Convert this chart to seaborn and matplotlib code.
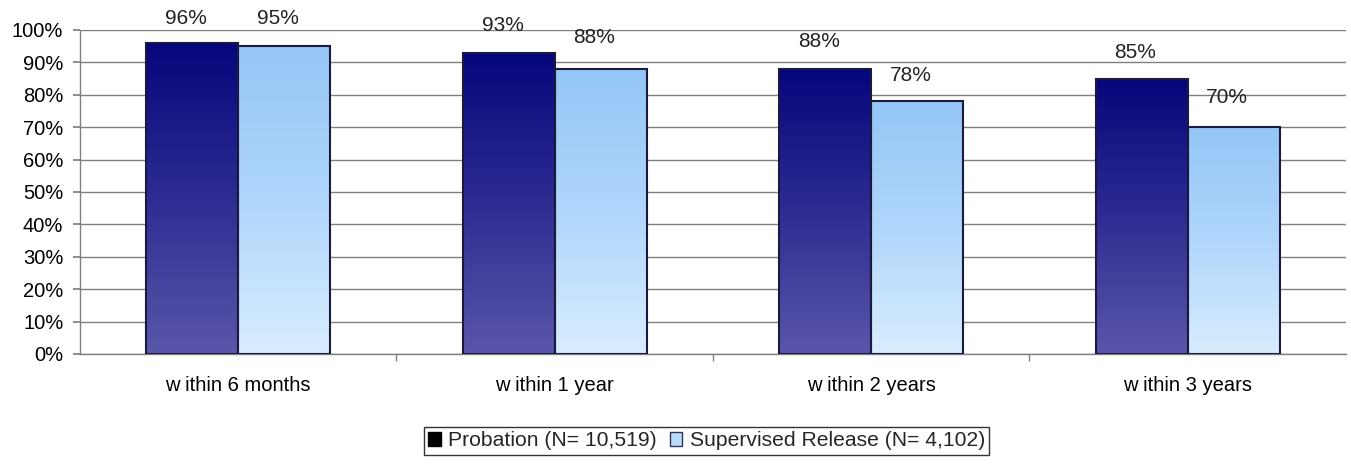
import numpy as np
import pandas as pd
import seaborn as sns
import matplotlib.pyplot as plt
from matplotlib.patches import Patch
from matplotlib.colors import LinearSegmentedColormap

# Data
periods = ["w ithin 6 months", "w ithin 1 year", "w ithin 2 years", "w ithin 3 years"]
groups = ["Probation (N= 10,519)", "Supervised Release (N= 4,102)"]
probation = [96, 93, 88, 85]
supervised = [95, 88, 78, 70]
label_offset = [[7.7, 8.5, 8.3, 8.2], [8.7, 9.8, 8.1, 9.3]]


def main():
    df = pd.DataFrame({
        "period": periods * 2,
        "group": [groups[0]] * 4 + [groups[1]] * 4,
        "value": probation + supervised,
    })

    sns.set_theme(style="white")
    plt.rcParams["font.family"] = ["Liberation Sans", "DejaVu Sans"]

    fig = plt.figure(figsize=(13.51, 4.68), dpi=100)
    ax = fig.add_axes([0.0592, 0.2436, 0.9371, 0.6923])

    sns.barplot(data=df, x="period", y="value", hue="group", order=periods,
                hue_order=groups, palette=["#2a2a90", "#b8dcfb"], width=0.58,
                edgecolor="#1a1a40", linewidth=1.5, legend=False, ax=ax)

    # gradient fills clipped to each bar
    cmaps = [
        LinearSegmentedColormap.from_list("dark", ["#5a56aa", "#2e2c92", "#06067c"]),
        LinearSegmentedColormap.from_list("light", ["#d8edfe", "#b0d6fb", "#94c6f6"]),
    ]
    grad = np.linspace(0, 1, 256).reshape(-1, 1)
    bars = [p for p in ax.patches if p.get_height() > 0]
    for i, p in enumerate(bars):
        g = i // len(periods)
        x0 = p.get_x()
        w = p.get_width()
        h = p.get_height()
        im = ax.imshow(grad, cmap=cmaps[g], origin="lower", aspect="auto",
                       extent=[x0, x0 + w, 0, h], zorder=2)
        im.set_clip_path(p)
        p.set_facecolor("none")
        p.set_zorder(3)

    # value labels
    vals = [probation, supervised]
    for i, p in enumerate(bars):
        g = i // len(periods)
        c = i % len(periods)
        ax.text(p.get_x() + p.get_width() / 2 - 0.02, vals[g][c] + label_offset[g][c],
                f"{vals[g][c]}%", ha="center", va="center", fontsize=15,
                color="#222222", zorder=4)

    ax.set_xlim(-0.5, 3.5)
    ax.set_ylim(0, 100)
    ax.set_yticks(range(0, 101, 10))
    ax.set_yticklabels([f"{v}%" for v in range(0, 101, 10)])
    ax.yaxis.grid(True, color="#808080", linewidth=1)
    ax.set_axisbelow(True)
    ax.set_xlabel("")
    ax.set_ylabel("")

    ax.tick_params(axis="y", left=True, length=5, color="#808080", labelsize=14.5,
                   pad=7, labelcolor="black")
    ax.tick_params(axis="x", bottom=False, labelsize=14.5, pad=10, labelcolor="black")
    ax.set_xticks([0.5, 1.5, 2.5], minor=True)
    ax.tick_params(axis="x", which="minor", bottom=True, length=5, color="#808080")

    for s in ["top", "right"]:
        ax.spines[s].set_visible(False)
    for s in ["left", "bottom"]:
        ax.spines[s].set_color("#808080")
        ax.spines[s].set_linewidth(1)

    handles = [
        Patch(facecolor="black", edgecolor="black"),
        Patch(facecolor="#b8dcfb", edgecolor="#333355"),
    ]
    leg = fig.legend(handles, groups, loc="center", bbox_to_anchor=(0.523, 0.058),
                     ncol=2, frameon=True, fancybox=False, fontsize=15.2,
                     handlelength=0.6, handleheight=0.6, handletextpad=0.35,
                     columnspacing=0.6, borderpad=0.2)
    leg.get_frame().set_edgecolor("black")
    leg.get_frame().set_linewidth(1)

    plt.savefig("out.png", dpi=100)


if __name__ == "__main__":
    main()
